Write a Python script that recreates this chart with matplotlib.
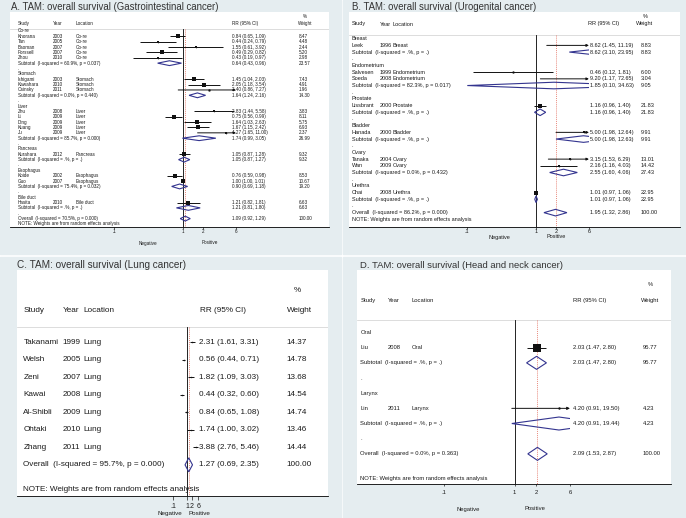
import numpy as np
import matplotlib.pyplot as plt
from matplotlib.patches import Rectangle, Polygon
from matplotlib.ticker import NullLocator

plt.rcParams['font.family'] = ['Liberation Sans', 'DejaVu Sans']

# ---------------- A. gastrointestinal ----------------
a_groups = ['Co-re', 'Stomach', 'Liver', 'Pancreas', 'Esophagus', 'Bile duct']
a_group_of = [0, 0, 0, 0, 0, 1, 1, 1, 2, 2, 2, 2, 2, 3, 4, 4, 5]
a_study = ['Khorana', 'Tan', 'Baoman', 'Forssell', 'Zhou', 'Ishigami', 'Kawahara', 'Osinsky',
           'Zhu', 'Li', 'Ding', 'Kuang', 'Ju', 'Kurahara', 'Koide', 'Guo', 'Hasita']
a_year = [2003, 2005, 2007, 2007, 2010, 2003, 2010, 2011, 2008, 2009, 2009, 2009, 2009,
          2012, 2002, 2007, 2010]
a_loc = ['Co-re'] * 5 + ['Stomach'] * 3 + ['Liver'] * 5 + ['Pancreas'] + ['Esophagus'] * 2 + ['Bile duct']
a_rr = [0.84, 0.44, 1.55, 0.49, 0.43, 1.45, 2.05, 2.40, 2.83, 0.75, 1.64, 1.67, 4.27, 1.05, 0.76, 1.00, 1.21]
a_lo = [0.65, 0.24, 0.61, 0.29, 0.19, 1.04, 1.18, 0.86, 1.44, 0.56, 1.03, 1.15, 1.65, 0.87, 0.59, 1.00, 0.82]
a_hi = [1.09, 0.79, 3.92, 0.82, 0.97, 2.03, 3.54, 7.27, 5.58, 0.99, 2.63, 2.42, 11.00, 1.28, 0.98, 1.01, 1.81]
a_wt = [8.47, 4.48, 2.44, 5.20, 2.98, 7.43, 4.91, 1.96, 3.83, 8.11, 5.75, 6.93, 2.37, 9.32, 8.53, 10.67, 6.63]
a_sub_rr = [0.64, 1.64, 1.74, 1.05, 0.90, 1.21]
a_sub_lo = [0.43, 1.24, 0.99, 0.87, 0.69, 0.81]
a_sub_hi = [0.96, 2.16, 3.05, 1.27, 1.18, 1.80]
a_sub_wt = [23.57, 14.30, 26.99, 9.32, 19.20, 6.63]
a_sub_i2 = ['60.9%', '0.0%', '85.7%', '.%', '75.4%', '.%']
a_sub_p = ['0.037', '0.440', '0.000', '.', '0.032', '.']
a_overall = [1.09, 0.92, 1.29]
a_overall_het = ['70.5%', '0.000']

# ---------------- B. urogenital ----------------
b_groups = ['Breast', 'Endometrium', 'Prostate', 'Bladder', 'Ovary', 'Urethra']
b_group_of = [0, 1, 1, 2, 3, 4, 4, 5]
b_study = ['Leek', 'Salvesen', 'Soeda', 'Lissbrant', 'Hanada', 'Tanaka', 'Wan', 'Chai']
b_year = [1996, 1999, 2008, 2000, 2000, 2004, 2009, 2008]
b_loc = ['Breast', 'Endometrium', 'Endometrium', 'Prostate', 'Bladder', 'Ovary', 'Ovary', 'Urethra']
b_rr = [8.62, 0.46, 9.20, 1.16, 5.00, 3.15, 2.16, 1.01]
b_lo = [1.45, 0.12, 1.17, 0.96, 1.98, 1.53, 1.16, 0.97]
b_hi = [11.19, 1.81, 72.65, 1.40, 12.64, 6.29, 4.03, 1.06]
b_wt = [8.83, 6.00, 3.04, 21.83, 9.91, 13.01, 14.42, 22.95]
b_sub_rr = [8.62, 1.85, 1.16, 5.00, 2.55, 1.01]
b_sub_lo = [3.10, 0.10, 0.96, 1.98, 1.60, 0.97]
b_sub_hi = [23.95, 34.63, 1.40, 12.63, 4.06, 1.06]
b_sub_wt = [8.83, 9.05, 21.83, 9.91, 27.43, 22.95]
b_sub_i2 = ['.%', '82.3%', '.%', '.%', '0.0%', '.%']
b_sub_p = ['.', '0.017', '.', '.', '0.432', '.']
b_overall = [1.95, 1.32, 2.86]
b_overall_het = ['86.2%', '0.000']

# ---------------- C. lung ----------------
c_study = ['Takanami', 'Welsh', 'Zeni', 'Kawai', 'Al-Shibli', 'Ohtaki', 'Zhang']
c_year = [1999, 2005, 2007, 2008, 2009, 2010, 2011]
c_loc = ['Lung'] * 7
c_rr = [2.31, 0.56, 1.82, 0.44, 0.84, 1.74, 3.88]
c_lo = [1.61, 0.44, 1.09, 0.32, 0.65, 1.00, 2.76]
c_hi = [3.31, 0.71, 3.03, 0.60, 1.08, 3.02, 5.46]
c_wt = [14.37, 14.78, 13.68, 14.54, 14.74, 13.46, 14.44]
c_overall = [1.27, 0.69, 2.35]
c_overall_het = ['95.7%', '0.000']

# ---------------- D. head and neck ----------------
d_groups = ['Oral', 'Larynx']
d_group_of = [0, 1]
d_study = ['Liu', 'Lin']
d_year = [2008, 2011]
d_loc = ['Oral', 'Larynx']
d_rr = [2.03, 4.20]
d_lo = [1.47, 0.91]
d_hi = [2.80, 19.50]
d_wt = [95.77, 4.23]
d_sub_rr = [2.03, 4.20]
d_sub_lo = [1.47, 0.91]
d_sub_hi = [2.80, 19.44]
d_sub_wt = [95.77, 4.23]
d_sub_i2 = ['.%', '.%']
d_sub_p = ['.', '.']
d_overall = [2.09, 1.53, 2.87]
d_overall_het = ['0.0%', '0.363']

tick_vals = [0.1, 1, 2, 6]
tick_labels = ['.1', '1', '2', '6']
x_range = (0.1, 6)

W, H = 686, 518
GRAY = '#e5edf0'
NAVY = '#33348f'
TXT = '#1a1a1a'

fig = plt.figure(figsize=(W / 100, H / 100), dpi=100)
fig.patch.set_facecolor('white')
for (x, y, w, h) in [(0, 0, 341, 254), (343, 0, 343, 254), (0, 257, 341, 261), (343, 257, 343, 261)]:
    fig.add_artist(Rectangle((x / W, 1 - (y + h) / H), w / W, h / H, transform=fig.transFigure,
                             color=GRAY, zorder=-10))


def build_rows(groups, group_of, n):
    rows = []
    if groups is None:
        rows += [('study', j) for j in range(n)]
    else:
        for g in range(len(groups)):
            rows.append(('group', g))
            rows += [('study', j) for j in range(n) if group_of[j] == g]
            rows.append(('sub', g))
            rows.append(('blank', None))
    rows.append(('overall', None))
    return rows


def ci_text(r, l, h):
    return f'{r:.2f} ({l:.2f}, {h:.2f})'


def draw_forest(lay, study, year, loc, rr, lo, hi, wt, overall, overall_het,
                groups=None, group_of=None, sub_rr=None, sub_lo=None, sub_hi=None,
                sub_wt=None, sub_i2=None, sub_p=None):
    x0, y0, x1, y1 = lay['box']
    p1, s, r0, dy = lay['p1'], lay['s'], lay['r0'], lay['dy']
    ax = fig.add_axes([x0 / W, 1 - y1 / H, (x1 - x0) / W, (y1 - y0) / H])
    ax.set_facecolor('white')
    ax.set_xscale('log')

    def px(v):
        return 10 ** ((v - p1) / s)

    def py(v):
        return (v - r0) / dy

    ax.set_xlim(px(x0), px(x1))
    ax.set_ylim(py(y1), py(y0))
    for sp in ['top', 'left', 'right']:
        ax.spines[sp].set_visible(False)
    ax.spines['bottom'].set_linewidth(0.6)
    ax.set_yticks([])
    ax.set_xticks(tick_vals)
    ax.set_xticklabels(tick_labels)
    ax.xaxis.set_minor_locator(NullLocator())
    ax.tick_params(axis='x', length=lay['tick_len'] * 0.72, width=0.5, pad=lay['pad'],
                   labelsize=lay['tfs'], colors=TXT)

    fs = lay['fs']
    cs, cy, cl, cr, cw = [px(v) for v in lay['cols']]
    tk = dict(fontsize=fs, va='center', ha='left', clip_on=False, color=TXT)
    lo_c, hi_c = x_range
    clip = Rectangle((lo_c, py(y0)), hi_c - lo_c, py(y1) - py(y0), transform=ax.transData)
    dh = lay['dh'] / dy

    # header
    hs, hy, hl, hr, hw, hp = [px(v) for v in lay['hcols']]
    yh = py(lay['head'])
    ax.text(hs, yh, 'Study', **tk)
    ax.text(hy, yh, 'Year', **tk)
    ax.text(hl, yh, 'Location', **tk)
    ax.text(hr, yh, 'RR (95% CI)', **tk)
    ax.text(hw, yh, 'Weight', **tk)
    ax.text(hp, py(lay['pct']), '%', **tk)
    ax.axhline(py(lay['hline']), color='#cfcfcf', lw=0.5)

    # reference lines
    ytop, ybot = py(lay['hline']), py(y1)
    ax.plot([1, 1], [ytop, ybot], color='black', lw=0.6, zorder=2)
    ax.plot([overall[0], overall[0]], [ytop, ybot], color='#e0604f', lw=0.5,
            ls=(0, (1.5, 1.5)), zorder=2)

    def diamond(c, l, h, yy):
        poly = Polygon([(l, yy), (c, yy - dh), (h, yy), (c, yy + dh)], closed=True,
                       fill=False, ec=NAVY, lw=0.8, zorder=4)
        ax.add_patch(poly)
        poly.set_clip_path(clip)

    rows = build_rows(groups, group_of, len(study))
    for i, (kind, j) in enumerate(rows):
        if kind == 'group':
            ax.text(cs, i, groups[j], **tk)
        elif kind == 'blank':
            ax.text(cs, i, '.', **tk)
        elif kind == 'study':
            ax.text(cs, i, study[j], **tk)
            ax.text(cy, i, str(year[j]), **tk)
            ax.text(cl, i, loc[j], **tk)
            ax.text(cr, i, ci_text(rr[j], lo[j], hi[j]), **tk)
            ax.text(cw, i, f'{wt[j]:.2f}', **tk)
            a, b = max(lo[j], lo_c), min(hi[j], hi_c)
            if hi[j] > hi_c:
                ax.annotate('', xy=(b, i), xytext=(a, i),
                            arrowprops=dict(arrowstyle='-|>', color='#111', lw=0.7,
                                            shrinkA=0, shrinkB=0, mutation_scale=lay['arrow']))
            else:
                ax.plot([a, b], [i, i], color='#111', lw=0.7, solid_capstyle='butt', zorder=3)
            if lo_c <= rr[j] <= hi_c:
                side = lay['k'] * np.sqrt(wt[j])
                ax.plot(rr[j], i, 's', ms=side * 0.72, color='#111', mew=0, zorder=3)
                ax.plot(rr[j], i, 'o', ms=lay['dot'], color='#111', mew=0, zorder=3)
        elif kind == 'sub':
            ax.text(cs, i, f'Subtotal  (I-squared = {sub_i2[j]}, p = {sub_p[j]})', **tk)
            ax.text(cr, i, ci_text(sub_rr[j], sub_lo[j], sub_hi[j]), **tk)
            ax.text(cw, i, f'{sub_wt[j]:.2f}', **tk)
            diamond(sub_rr[j], sub_lo[j], sub_hi[j], i)
        elif kind == 'overall':
            ax.text(cs, i, f'Overall  (I-squared = {overall_het[0]}, p = {overall_het[1]})', **tk)
            ax.text(cr, i, ci_text(*overall), **tk)
            ax.text(cw, i, '100.00', **tk)
            diamond(overall[0], overall[1], overall[2], i)

    ax.text(cs, py(lay['note']), 'NOTE: Weights are from random effects analysis', **tk)
    nx, pxp, ny = lay['neg']
    nk = dict(fontsize=lay['nfs'], ha='center', va='center', clip_on=False, color=TXT)
    ax.text(px(nx), py(ny), 'Negative', **nk)
    ax.text(px(pxp), py(ny), 'Positive', **nk)
    tx, ty, tfs, title = lay['title']
    fig.text(tx / W, 1 - ty / H, title, fontsize=tfs, ha='left', va='center', color='#333333')
    return ax


lay_a = dict(box=(10, 12, 329, 227), p1=182.7, s=68.4, r0=31.0, dy=5.36, note=224.0,
             cols=(18, 53.3, 76, 231.7, 299), hcols=(18, 53.3, 76, 231.7, 298, 303),
             head=23.3, pct=17, hline=29, fs=3.3, tfs=3.3, nfs=3.3, k=1.37, dot=1.2, dh=2.4,
             arrow=3, tick_len=1.5, pad=0.3, neg=(148, 210, 243),
             title=(10.7, 7, 6.9, 'A. TAM: overall survival (Gastrointestinal cancer)'))
lay_b = dict(box=(349, 12, 680, 227), p1=535.7, s=68.4, r0=38.7, dy=6.69, note=219.3,
             cols=(352, 379.7, 392.3, 589.7, 641), hcols=(352, 379.7, 392.3, 588, 636.3, 643),
             head=24, pct=17, hline=35, fs=4.0, tfs=4.0, nfs=4.0, k=0.75, dot=1.3, dh=3.3,
             arrow=3.5, tick_len=1.5, pad=0.3, neg=(499.7, 556, 237),
             title=(352, 7, 6.9, 'B. TAM: overall survival (Urogenital cancer)'))
lay_c = dict(box=(17, 270, 328, 496), p1=187.3, s=14, r0=342, dy=17.55, note=489.3,
             cols=(23.3, 62.7, 83.3, 199.3, 286.7), hcols=(23.3, 62.7, 83.3, 200, 286.7, 293.3),
             head=310, pct=290.7, hline=326.7, fs=5.9, tfs=5.0, nfs=4.5, k=0.35, dot=0.8, dh=7,
             arrow=4, tick_len=4, pad=2.0, neg=(170, 199, 513.5),
             title=(17, 264.5, 7.2, 'C. TAM: overall survival (Lung cancer)'))
lay_d = dict(box=(357, 270, 671, 484), p1=514.7, s=71, r0=332.5, dy=15.17, note=478.3,
             cols=(360.3, 388, 411.3, 573, 643), hcols=(360.3, 388, 411.3, 573, 641.3, 648),
             head=300.7, pct=285, hline=320, fs=4.2, tfs=4.2, nfs=4.2, k=0.85, dot=1.5, dh=6.5,
             arrow=4, tick_len=2.5, pad=2.7, neg=(468, 534.7, 509),
             title=(359.7, 265, 6.8, 'D. TAM: overall survival (Head and neck cancer)'))

draw_forest(lay_a, a_study, a_year, a_loc, a_rr, a_lo, a_hi, a_wt, a_overall, a_overall_het,
            a_groups, a_group_of, a_sub_rr, a_sub_lo, a_sub_hi, a_sub_wt, a_sub_i2, a_sub_p)
draw_forest(lay_b, b_study, b_year, b_loc, b_rr, b_lo, b_hi, b_wt, b_overall, b_overall_het,
            b_groups, b_group_of, b_sub_rr, b_sub_lo, b_sub_hi, b_sub_wt, b_sub_i2, b_sub_p)
draw_forest(lay_c, c_study, c_year, c_loc, c_rr, c_lo, c_hi, c_wt, c_overall, c_overall_het)
draw_forest(lay_d, d_study, d_year, d_loc, d_rr, d_lo, d_hi, d_wt, d_overall, d_overall_het,
            d_groups, d_group_of, d_sub_rr, d_sub_lo, d_sub_hi, d_sub_wt, d_sub_i2, d_sub_p)

fig.savefig('out.png', dpi=100, facecolor=fig.get_facecolor())
